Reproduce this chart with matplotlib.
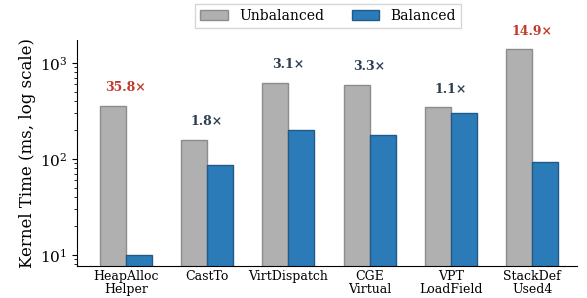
import matplotlib
matplotlib.use("Agg")
import matplotlib.pyplot as plt
import numpy as np

categories = ["HeapAlloc\nHelper", "CastTo", "VirtDispatch", "CGE\nVirtual", "VPT\nLoadField", "StackDef\nUsed4"]
unbalanced = [356, 160, 623, 594, 345, 1390]
balanced = [9.95, 87, 200, 180, 303, 93]
speedup_labels = ["35.8×", "1.8×", "3.1×", "3.3×", "1.1×", "14.9×"]
highlight = [True, False, False, False, False, True]

plt.rcParams['font.family'] = ['DejaVu Serif']

fig = plt.figure(figsize=(5.87, 2.98), dpi=100)
ax = fig.add_axes([77/587, 1-266/298, 500/587, 226/298])

x = np.arange(len(categories))
w = 0.32
ax.bar(x - w/2, unbalanced, w, color="#b0b0b0", edgecolor="#8c8c8c", linewidth=1.0, label="Unbalanced")
ax.bar(x + w/2, balanced, w, color="#2b7bb9", edgecolor="#1f5a88", linewidth=1.0, label="Balanced")
ax.set_yscale("log")
ax.set_ylim(7.7, 1740)
ax.set_xlim(-0.6, 5.55)
ax.set_xticks(x)
ax.set_xticklabels(categories, fontsize=9, linespacing=0.95)
ax.tick_params(axis='x', length=0, pad=3)
ax.tick_params(axis='y', labelsize=11)
ax.set_ylabel("Kernel Time (ms, log scale)", fontsize=12, labelpad=3)
ax.spines['top'].set_visible(False)
ax.spines['right'].set_visible(False)

for i in range(len(categories)):
    top = max(unbalanced[i], balanced[i])
    col = "#c0392b" if highlight[i] else "#2c3e50"
    ax.text(x[i], top * 1.55, speedup_labels[i], ha="center", va="center",
            fontsize=9, fontweight="bold", color=col)

fig.legend(loc="center", bbox_to_anchor=(328/587, 1-16/298), ncol=2, fontsize=10,
           frameon=True, fancybox=False, edgecolor="#cccccc", columnspacing=2.0,
           borderpad=0.35)
fig.savefig("out.png", dpi=100)
